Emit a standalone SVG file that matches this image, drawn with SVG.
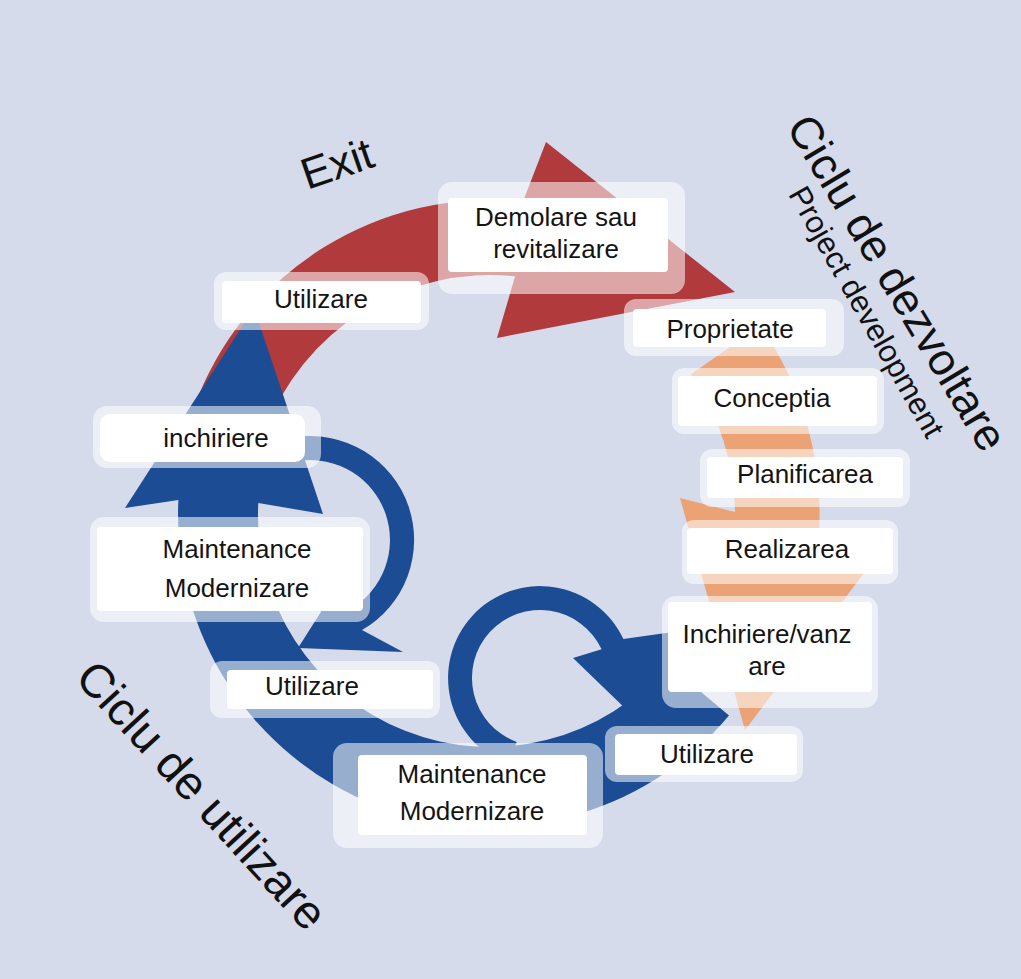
<svg xmlns="http://www.w3.org/2000/svg" width="1021" height="979" viewBox="0 0 1021 979">
<style>
.halo{fill:#fff;fill-opacity:.55}
.box{fill:#fff}
.lbl{font-family:"Liberation Sans",Arial,sans-serif;font-size:26px;fill:#141414;text-anchor:middle}
.big{font-family:"Liberation Sans",Arial,sans-serif;fill:#111;text-anchor:middle}
.red{fill:#b13a3c}
.orange{fill:#eba274}
.blue{fill:#1c4c94}
</style>
<rect x="0" y="0" width="1021" height="979" fill="#d5dbeb"/>
<g id="connectors">
<path id="arrow-develop" class="orange" d="M760.3,325.7 A330,330 0 0 1 819,534 L880,552 L745,730 L680,498 L735,512 A245,245 0 0 0 690.7,374.5 Z"/>
<path id="arrow-exit" class="red" d="M194,407.3 A315,315 0 0 1 522.9,201.7 L546,142 L735,292 L497,338 L515.1,276.3 A240,240 0 0 0 264.5,432.9 Z"/>
<path id="arrow-use" class="blue" d="M178.4,500 L125,508 L254,308 L323,514 L258.3,503 A232,232 0 0 0 667.7,664.1 L729,715.5 A312,312 0 0 1 178.4,500 Z"/>
<path id="loop-left" class="blue" d="M295.5,437 A104,104 0 0 1 362,630.1 L403,652 L298,648 L340,582 L350,609.3 A80,80 0 0 0 298.9,460.8 Z"/>
<path id="loop-bottom" class="blue" d="M508.5,764.5 A92,92 0 1 1 623.4,639.1 L673,632 L660,742 L573,658 L601.6,649.3 A68,68 0 1 0 516.7,741.9 Z"/>
</g>
<g id="n-demolare"><rect class="halo" x="438" y="182" width="247" height="112" rx="14"/><rect class="box" x="448" y="198" width="220" height="74" rx="4"/><text class="lbl" x="556" y="226">Demolare sau</text><text class="lbl" x="556" y="258">revitalizare</text></g>
<g id="n-utilizare-top"><rect class="halo" x="214" y="272" width="215" height="58" rx="12"/><rect class="box" x="222" y="281" width="199" height="42" rx="4"/><text class="lbl" x="321" y="308">Utilizare</text></g>
<g id="n-proprietate"><rect class="halo" x="624" y="299" width="220" height="57" rx="12"/><rect class="box" x="633" y="309" width="193" height="38" rx="4"/><text class="lbl" x="730" y="338">Proprietate</text></g>
<g id="n-conceptia"><rect class="halo" x="672" y="368" width="212" height="66" rx="12"/><rect class="box" x="678" y="376" width="199" height="50" rx="4"/><text class="lbl" x="772" y="407">Conceptia</text></g>
<g id="n-planificarea"><rect class="halo" x="700" y="449" width="210" height="58" rx="12"/><rect class="box" x="707" y="457" width="196" height="41" rx="4"/><text class="lbl" x="805" y="483">Planificarea</text></g>
<g id="n-realizarea"><rect class="halo" x="682" y="520" width="216" height="64" rx="12"/><rect class="box" x="687" y="528" width="206" height="46" rx="4"/><text class="lbl" x="787" y="558">Realizarea</text></g>
<g id="n-inchiriere-vanzare"><rect class="halo" x="662" y="596" width="216" height="112" rx="14"/><rect class="box" x="668" y="602" width="204" height="90" rx="4"/><text class="lbl" x="767" y="643">Inchiriere/vanz</text><text class="lbl" x="767" y="675">are</text></g>
<g id="n-utilizare-right"><rect class="halo" x="605" y="726" width="198" height="56" rx="12"/><rect class="box" x="615" y="734" width="182" height="41" rx="4"/><text class="lbl" x="707" y="763">Utilizare</text></g>
<g id="n-maintenance-bottom"><rect class="halo" x="333" y="743" width="270" height="105" rx="14"/><rect class="box" x="358" y="755" width="229" height="80" rx="4"/><text class="lbl" x="472" y="783">Maintenance</text><text class="lbl" x="472" y="820">Modernizare</text></g>
<g id="n-utilizare-left"><rect class="halo" x="210" y="661" width="230" height="57" rx="12"/><rect class="box" x="227" y="670" width="206" height="39" rx="4"/><text class="lbl" x="312" y="695">Utilizare</text></g>
<g id="n-maintenance-left"><rect class="halo" x="90" y="517" width="280" height="105" rx="14"/><rect class="box" x="97" y="527" width="266" height="84" rx="4"/><text class="lbl" x="237" y="558">Maintenance</text><text class="lbl" x="237" y="597">Modernizare</text></g>
<g id="n-inchiriere"><rect class="halo" x="93" y="406" width="228" height="62" rx="14"/><rect class="box" x="100" y="414" width="205" height="48" rx="10"/><text class="lbl" x="216" y="447">inchiriere</text></g>
<g id="titles">
<text class="big" font-size="44" transform="translate(342,178) rotate(-19)">Exit</text>
<text class="big" font-size="45" transform="translate(897,283) rotate(59)" y="15">Ciclu de dezvoltare</text>
<text class="big" font-size="31" transform="translate(866,312) rotate(60.5)" y="10">Project development</text>
<text class="big" font-size="47" transform="translate(201,796) rotate(47.5)" y="15">Ciclu de utilizare</text>
</g>
</svg>
